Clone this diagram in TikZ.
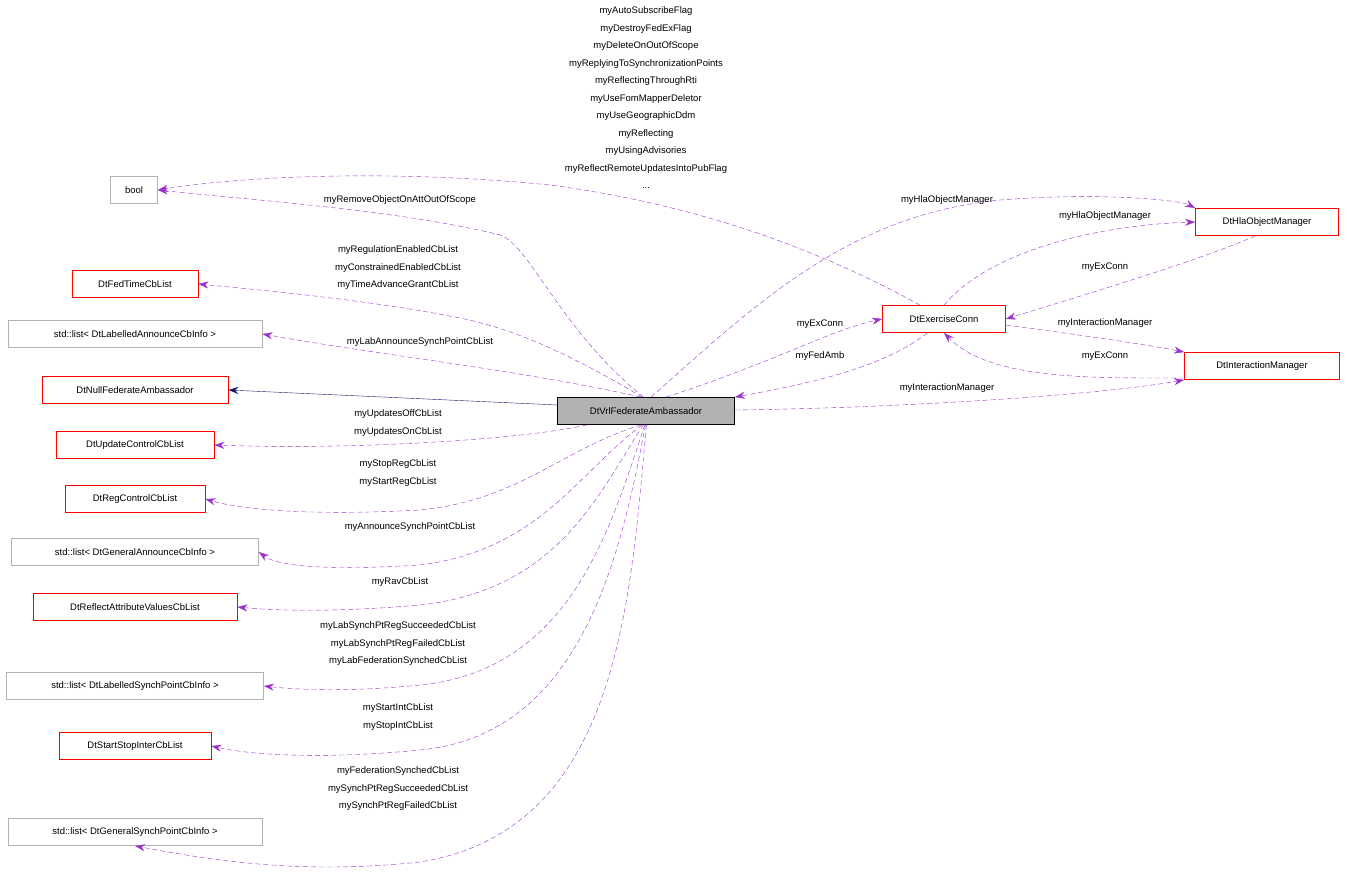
\documentclass[tikz,border=0pt]{standalone}
\usepackage{fontspec}
\setmainfont{Liberation Sans}
\usetikzlibrary{arrows.meta}
\definecolor{pur}{HTML}{9A32CD}
\definecolor{nav}{HTML}{191970}
\begin{document}
\begin{tikzpicture}[x=1pt,y=-1pt,
  box/.style={draw=red,thick,minimum height=27pt,inner xsep=6pt,font=\fontsize{9.5}{11}\selectfont},
  gbox/.style={box,draw=black!30},
  lab/.style={font=\fontsize{9.5}{17.5}\selectfont,align=center,inner sep=0pt},
  use/.style={draw=pur,dashed,dash pattern=on 5pt off 3pt,-{Stealth[length=10pt,width=7pt]}},
  inh/.style={draw=nav,-{Stealth[length=10pt,width=7pt]}}]
\useasboundingbox (0,0) rectangle (1347,872);
\node[gbox,minimum width=47pt] (bool) at (134,190) {bool};
\node[box,minimum width=126pt] (ft) at (135,284) {DtFedTimeCbList};
\node[gbox,minimum width=254pt] (la) at (135,334) {std::list< DtLabelledAnnounceCbInfo >};
\node[box,minimum width=186pt] (nf) at (135,390) {DtNullFederateAmbassador};
\node[box,minimum width=158pt] (uc) at (135,445) {DtUpdateControlCbList};
\node[box,minimum width=140pt] (rc) at (135,499) {DtRegControlCbList};
\node[gbox,minimum width=247pt] (ga) at (135,552) {std::list< DtGeneralAnnounceCbInfo >};
\node[box,minimum width=204pt] (ra) at (135,607) {DtReflectAttributeValuesCbList};
\node[gbox,minimum width=257pt] (ls) at (135,686) {std::list< DtLabelledSynchPointCbInfo >};
\node[box,minimum width=152pt] (ss) at (135,746) {DtStartStopInterCbList};
\node[gbox,minimum width=254pt] (gs) at (135,832) {std::list< DtGeneralSynchPointCbInfo >};
\node[box,draw=black,fill=black!30,minimum width=177pt] (vrl) at (646,411) {DtVrlFederateAmbassador};
\node[box,minimum width=123pt] (ec) at (944,319) {DtExerciseConn};
\node[box,minimum width=143pt] (hom) at (1267,222) {DtHlaObjectManager};
\node[box,minimum width=155pt] (im) at (1262,366) {DtInteractionManager};

\draw[inh] (vrl.west|-0,405) coordinate (v1) (vrl) ++(-88,-6) -- (nf.east);
\draw[use] (vrl.100) .. controls (560,330) and (530,245) .. (500,235) .. controls (400,210) and (250,200) .. (bool.east);
\draw[use] (ec.150) .. controls (820,250) and (700,205) .. (550,185) .. controls (400,170) and (250,175) .. (bool.east);
\draw[use] (vrl.105) .. controls (580,360) and (520,330) .. (460,318) .. controls (370,300) and (260,290) .. (ft.east);
\draw[use] (vrl.110) .. controls (520,370) and (380,355) .. (la.east);
\draw[use] (vrl.south west) ++(30,0) .. controls (520,440) and (350,450) .. (uc.east);
\draw[use] (vrl.250) .. controls (560,450) and (520,500) .. (420,510) .. controls (330,515) and (250,512) .. (rc.east);
\draw[use] (vrl.255) .. controls (580,470) and (540,550) .. (420,565) .. controls (340,570) and (280,568) .. (ga.east);
\draw[use] (vrl.260) .. controls (600,490) and (560,590) .. (420,605) .. controls (340,612) and (280,611) .. (ra.east);
\draw[use] (vrl.265) .. controls (610,530) and (570,670) .. (420,685) .. controls (350,692) and (300,690) .. (ls.east);
\draw[use] (vrl.268) .. controls (620,560) and (580,735) .. (420,750) .. controls (340,758) and (260,757) .. (ss.east);
\draw[use] (vrl.272) .. controls (630,600) and (620,830) .. (420,862) .. controls (300,875) and (210,860) .. (gs.south);
\draw[use] (vrl.70) .. controls (760,300) and (850,215) .. (1000,200) .. controls (1100,192) and (1180,200) .. (hom.north west);
\draw[use] (vrl.35) .. controls (780,360) and (830,330) .. (ec.west);
\draw[use] (ec.220) .. controls (880,370) and (800,385) .. (vrl.north east);
\draw[use] (vrl.east) ++(0,-1) .. controls (900,408) and (1100,395) .. (im.south west);
\draw[use] (ec.north) .. controls (990,250) and (1100,225) .. (hom.west);
\draw[use] (hom.230) .. controls (1200,260) and (1100,290) .. (ec.east);
\draw[use] (ec.east) ++(0,6) .. controls (1080,335) and (1150,345) .. (im.north west);
\draw[use] (im.west) ++(0,12) .. controls (1090,378) and (990,380) .. (ec.south);

\node[lab] (l1) at (646,98) {myAutoSubscribeFlag\\myDestroyFedExFlag\\myDeleteOnOutOfScope\\myReplyingToSynchronizationPoints\\myReflectingThroughRti\\myUseFomMapperDeletor\\myUseGeographicDdm\\myReflecting\\myUsingAdvisories\\myReflectRemoteUpdatesIntoPubFlag\\...};
\node[lab] (l2) at (400,200) {myRemoveObjectOnAttOutOfScope};
\node[lab] (l3) at (398,268) {myRegulationEnabledCbList\\myConstrainedEnabledCbList\\myTimeAdvanceGrantCbList};
\node[lab] (l4) at (420,342) {myLabAnnounceSynchPointCbList};
\node[lab] (l5) at (398,423) {myUpdatesOffCbList\\myUpdatesOnCbList};
\node[lab] (l6) at (398,473) {myStopRegCbList\\myStartRegCbList};
\node[lab] (l7) at (410,527) {myAnnounceSynchPointCbList};
\node[lab] (l8) at (400,582) {myRavCbList};
\node[lab] (l9) at (398,644) {myLabSynchPtRegSucceededCbList\\myLabSynchPtRegFailedCbList\\myLabFederationSynchedCbList};
\node[lab] (l10) at (398,717) {myStartIntCbList\\myStopIntCbList};
\node[lab] (l11) at (398,789) {myFederationSynchedCbList\\mySynchPtRegSucceededCbList\\mySynchPtRegFailedCbList};
\node[lab] (l12) at (947,200) {myHlaObjectManager};
\node[lab] (l13) at (820,324) {myExConn};
\node[lab] (l14) at (820,356) {myFedAmb};
\node[lab] (l15) at (947,388) {myInteractionManager};
\node[lab] (l16) at (1105,216) {myHlaObjectManager};
\node[lab] (l17) at (1105,267) {myExConn};
\node[lab] (l18) at (1105,323) {myInteractionManager};
\node[lab] (l19) at (1105,356) {myExConn};
\end{tikzpicture}
\end{document}
